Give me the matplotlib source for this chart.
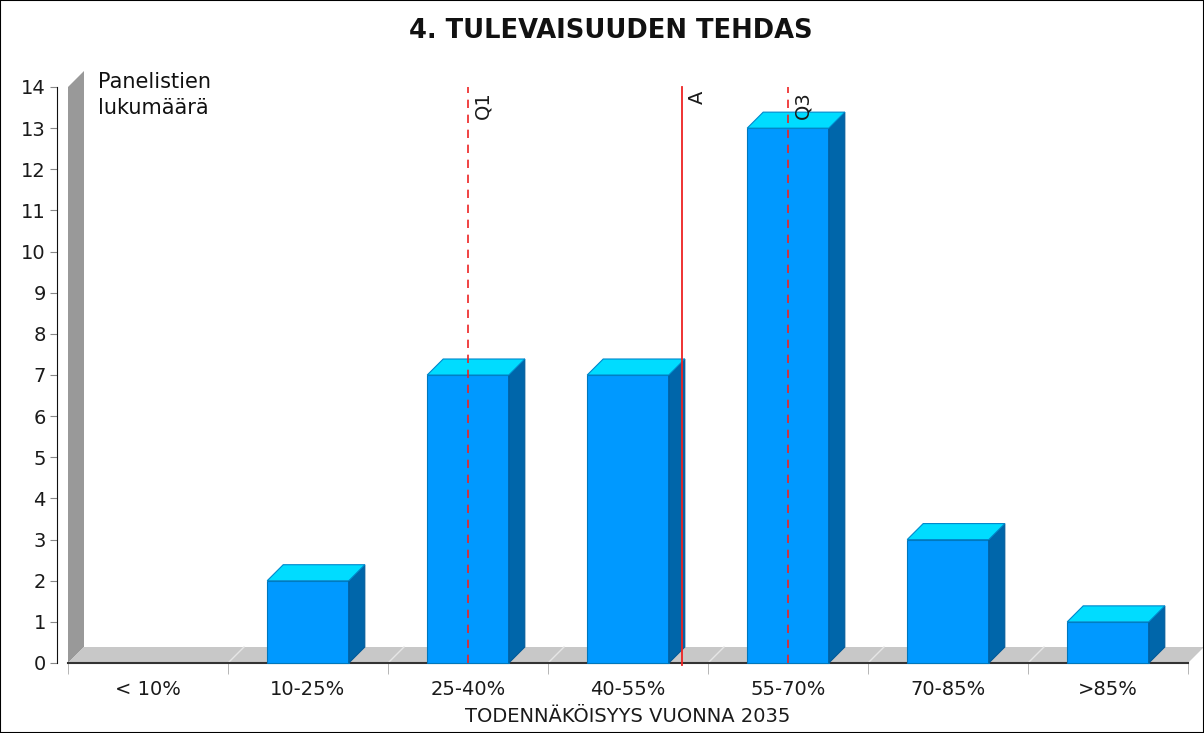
import matplotlib
matplotlib.use("Agg")
import matplotlib.pyplot as plt
from matplotlib.patches import Polygon, Rectangle

categories = ["< 10%", "10-25%", "25-40%", "40-55%", "55-70%", "70-85%", ">85%"]
counts = [0, 2, 7, 7, 13, 3, 1]
q1_pos = 2.0
avg_pos = 3.34
q3_pos = 4.0
title = "4. TULEVAISUUDEN TEHDAS"
ylabel = "Panelistien\nlukumäärä"
xlabel = "TODENNÄKÖISYYS VUONNA 2035"

W, H = 1204, 733
fig = plt.figure(figsize=(W / 100, H / 100), dpi=100)
x0, x1, y0, y1 = 68, 1188, 87, 663
ax = fig.add_axes([x0 / W, 1 - y1 / H, (x1 - x0) / W, (y1 - y0) / H])
ax.set_xlim(-0.5, 6.5)
ax.set_ylim(0, 14)

dx = 16 / 160.0
dy = 16 / ((y1 - y0) / 14.0)

# wall and floor
ax.add_patch(Polygon([(-0.5, 0), (-0.5, 14), (-0.5 + dx, 14 + dy), (-0.5 + dx, dy)],
                     closed=True, facecolor="#999999", edgecolor="none", clip_on=False, zorder=1))
ax.add_patch(Polygon([(-0.5, 0), (6.5, 0), (6.5 + dx, dy), (-0.5 + dx, dy)],
                     closed=True, facecolor="#c8c8c8", edgecolor="none", clip_on=False, zorder=1))
for b in range(1, 7):
    xb = b - 0.5
    ax.plot([xb, xb + dx], [0, dy], color="#e6e6e6", lw=1, clip_on=False, zorder=1.5)

# bars
bw = 0.51
for i, v in enumerate(counts):
    if v <= 0:
        continue
    l, r = i - bw / 2, i + bw / 2
    ax.add_patch(Polygon([(l, 0), (r, 0), (r, v), (l, v)], closed=True,
                         facecolor="#0099ff", edgecolor="#0077bb", lw=0.8, clip_on=False, zorder=3))
    ax.add_patch(Polygon([(r, 0), (r + dx, dy), (r + dx, v + dy), (r, v)], closed=True,
                         facecolor="#0066aa", edgecolor="#005a99", lw=0.8, clip_on=False, zorder=3))
    ax.add_patch(Polygon([(l, v), (r, v), (r + dx, v + dy), (l + dx, v + dy)], closed=True,
                         facecolor="#00dcff", edgecolor="#0088cc", lw=0.8, clip_on=False, zorder=3))

# reference lines
ax.plot([q1_pos, q1_pos], [0, 14], color="#ee2222", lw=1.2, ls=(0, (5, 4)), zorder=4, clip_on=False)
ax.plot([q3_pos, q3_pos], [0, 14], color="#ee2222", lw=1.2, ls=(0, (5, 4)), zorder=4, clip_on=False)
ax.plot([avg_pos, avg_pos], [-0.05, 14], color="#ee2222", lw=1.3, zorder=4, clip_on=False)
for xp, lab in [(q1_pos, "Q1"), (avg_pos, "A"), (q3_pos, "Q3")]:
    ax.text(xp + 0.035, 13.9, lab, rotation=90, ha="left", va="top", fontsize=14,
            color="#1a1a1a", zorder=5)

# axes styling
for s in ["top", "right"]:
    ax.spines[s].set_visible(False)
ax.spines["left"].set_position(("outward", 8))
ax.spines["left"].set_color("#111111")
ax.spines["bottom"].set_color("#333333")
ax.spines["bottom"].set_linewidth(1.5)
ax.spines["bottom"].set_zorder(2)
ax.set_yticks(range(0, 15))
ax.tick_params(axis="y", length=5, color="#888888", labelsize=14, labelcolor="#1a1a1a", pad=3)
ax.set_xticks(range(len(categories)))
ax.set_xticklabels(categories)
ax.set_xticks([b - 0.5 for b in range(8)], minor=True)
ax.tick_params(axis="x", which="major", length=0, labelsize=14, labelcolor="#1a1a1a", pad=12)
ax.tick_params(axis="x", which="minor", length=8, color="#aaaaaa")
ax.set_xlabel(xlabel, fontsize=14, color="#1a1a1a", labelpad=6)

fig.text(611 / W, 1 - 31 / H, title, ha="center", va="center", fontsize=18.5,
         fontweight="bold", color="#111111")
fig.text(98 / W, 1 - 72 / H, ylabel, ha="left", va="top", fontsize=15, color="#111111",
         linespacing=1.35)

fig.patches.append(Rectangle((0, 0), 1, 1, transform=fig.transFigure, fill=False,
                             edgecolor="black", lw=1.5))

fig.savefig("out.png", dpi=100)
